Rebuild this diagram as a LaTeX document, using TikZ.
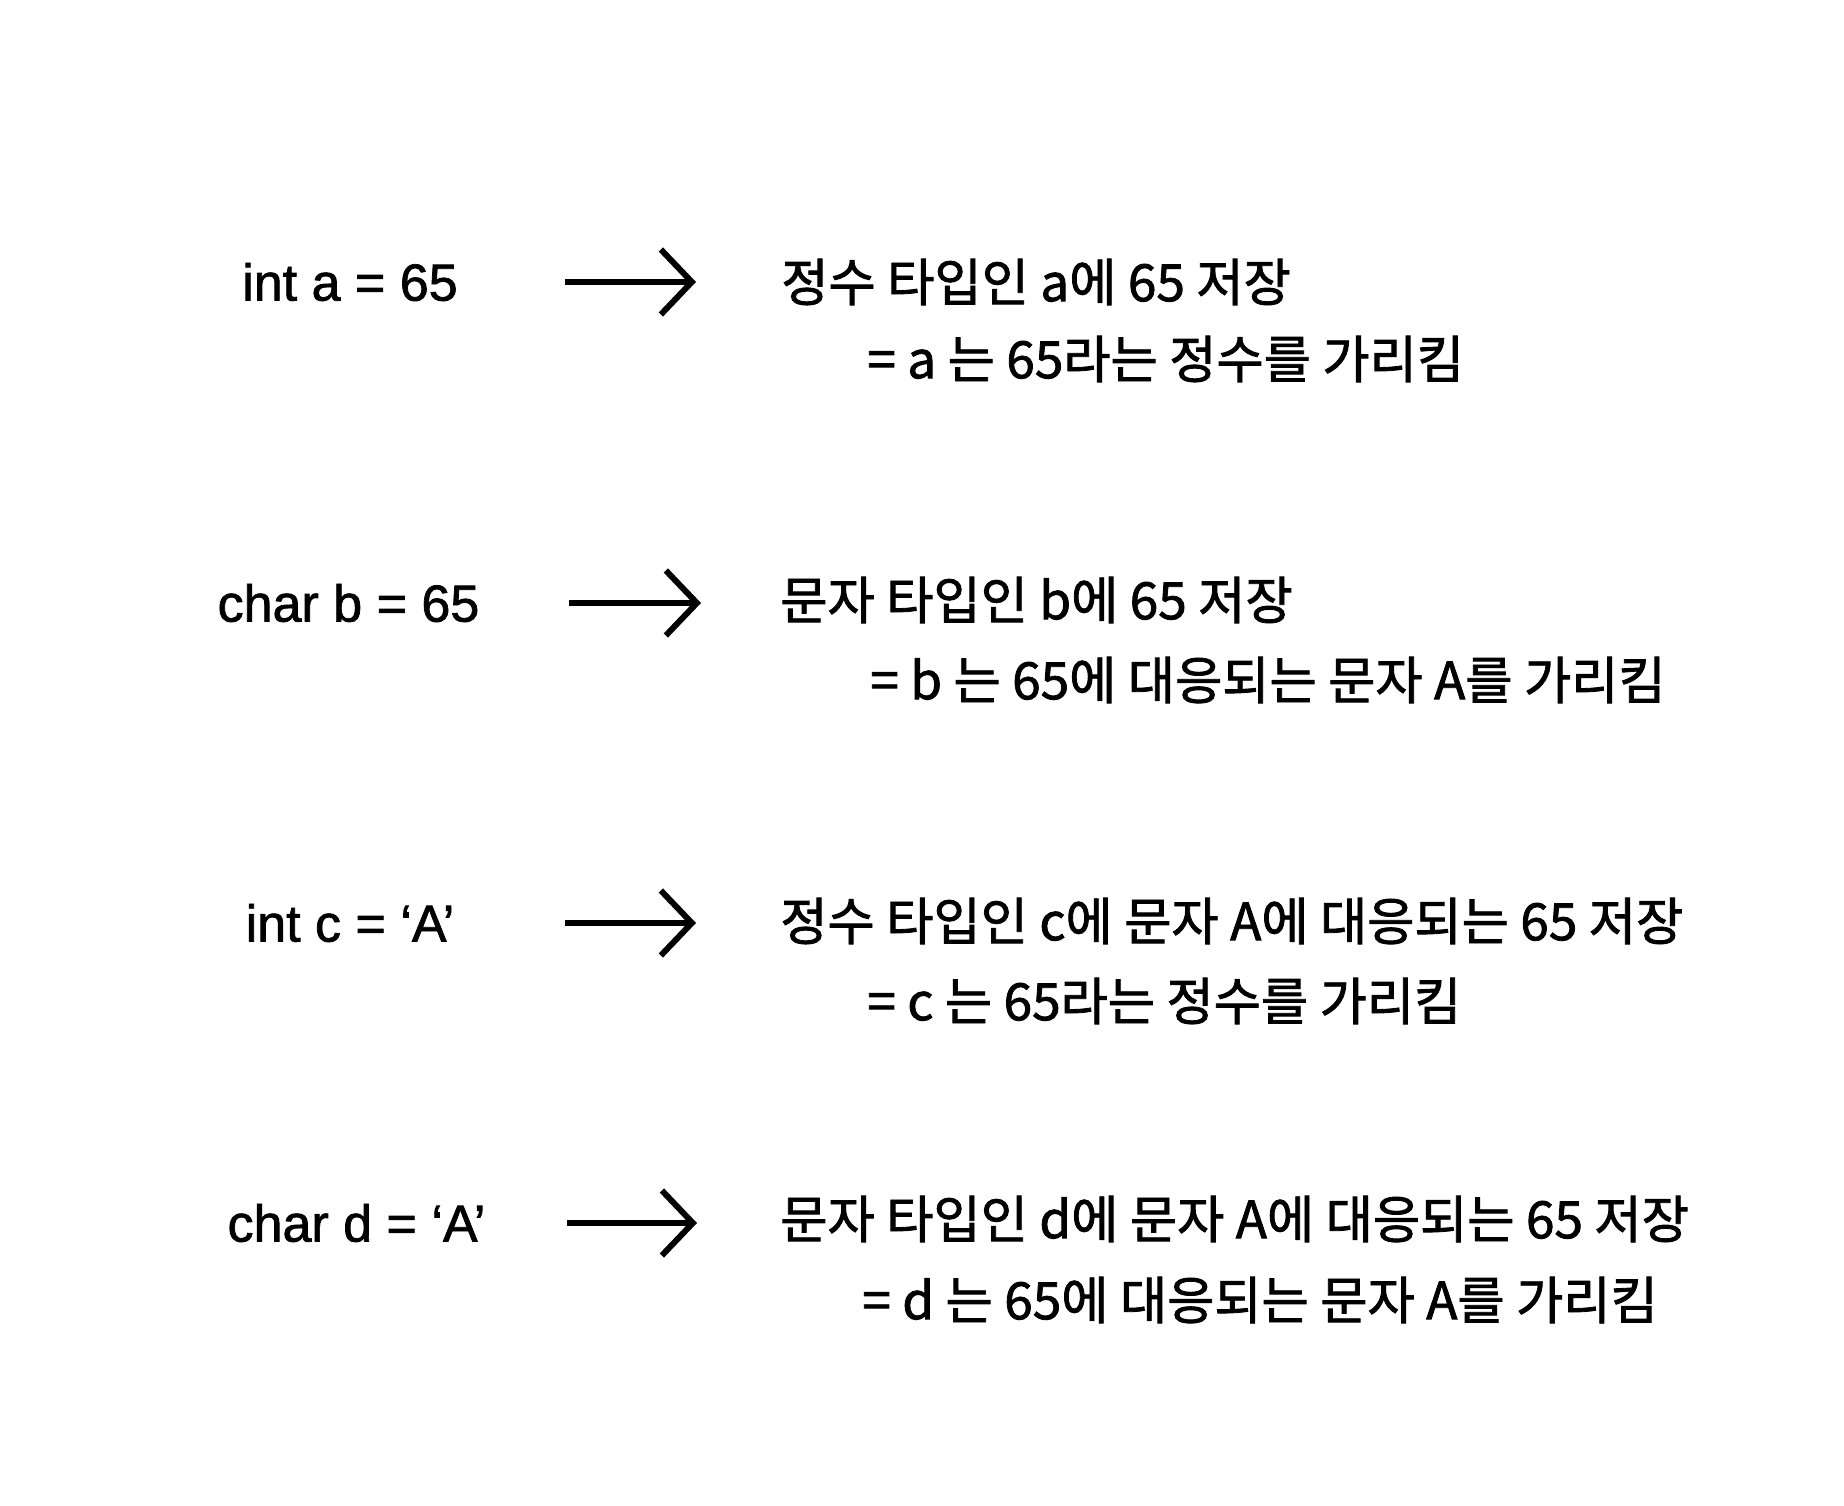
\documentclass[tikz,border=0pt]{standalone}
\usepackage{fontspec}
\setmainfont{Noto Sans CJK KR}[FakeBold=1.6]
\newfontfamily\codefont{Liberation Sans}[FakeBold=1.4]
\usetikzlibrary{arrows.meta}

\begin{document}
\begin{tikzpicture}[
    % Node styles
    codetext/.style={font=\codefont\fontsize{29.6}{34}\selectfont, inner sep=0pt, anchor=center},
    desctext/.style={font=\fontsize{29.2}{34}\selectfont, inner sep=0pt, anchor=west},
    % Arrow style
    bigarrow/.style={-{Straight Barb[length=0.62cm, width=1.3cm]}, line width=3.4pt},
]

% ============================================================
% CANVAS: 1844 x 1506 px at 0.02cm per px
% ============================================================
\useasboundingbox (0,0) rectangle (36.88,-30.12);

% --- Row 1 (int a) ---
\node[codetext] (codea) at (7.0, -5.64) {int a = 65};
\coordinate (arrowastart) at (11.3, -5.64);
\coordinate (arrowaend) at (13.92, -5.64);
\node[desctext] (descatop) at (15.62, -5.64) {정수 타입인 a에 65 저장};
\node[desctext] (descabot) at (17.34, -7.18) {= a 는 65라는 정수를 가리킴};

% --- Row 2 (char b) ---
\node[codetext] (codeb) at (6.97, -12.06) {char b = 65};
\coordinate (arrowbstart) at (11.38, -12.06);
\coordinate (arrowbend) at (14.02, -12.06);
\node[desctext] (descbtop) at (15.6, -12.0) {문자 타입인 b에 65 저장};
\node[desctext] (descbbot) at (17.4, -13.6) {= b 는 65에 대응되는 문자 A를 가리킴};

% --- Row 3 (int c) ---
\node[codetext] (codec) at (7.0, -18.46) {int c = ‘A’};
\coordinate (arrowcstart) at (11.3, -18.46);
\coordinate (arrowcend) at (13.92, -18.46);
\node[desctext] (descctop) at (15.6, -18.42) {정수 타입인 c에 문자 A에 대응되는 65 저장};
\node[desctext] (desccbot) at (17.34, -20.02) {= c 는 65라는 정수를 가리킴};

% --- Row 4 (char d) ---
\node[codetext] (coded) at (7.13, -24.46) {char d = ‘A’};
\coordinate (arrowdstart) at (11.34, -24.46);
\coordinate (arrowdend) at (13.94, -24.46);
\node[desctext] (descdtop) at (15.6, -24.38) {문자 타입인 d에 문자 A에 대응되는 65 저장};
\node[desctext] (descdbot) at (17.24, -26.0) {= d 는 65에 대응되는 문자 A를 가리킴};

% ============================================================
% ARROWS
% ============================================================
\draw[bigarrow] (arrowastart) -- (arrowaend);
\draw[bigarrow] (arrowbstart) -- (arrowbend);
\draw[bigarrow] (arrowcstart) -- (arrowcend);
\draw[bigarrow] (arrowdstart) -- (arrowdend);

\end{tikzpicture}
\end{document}
